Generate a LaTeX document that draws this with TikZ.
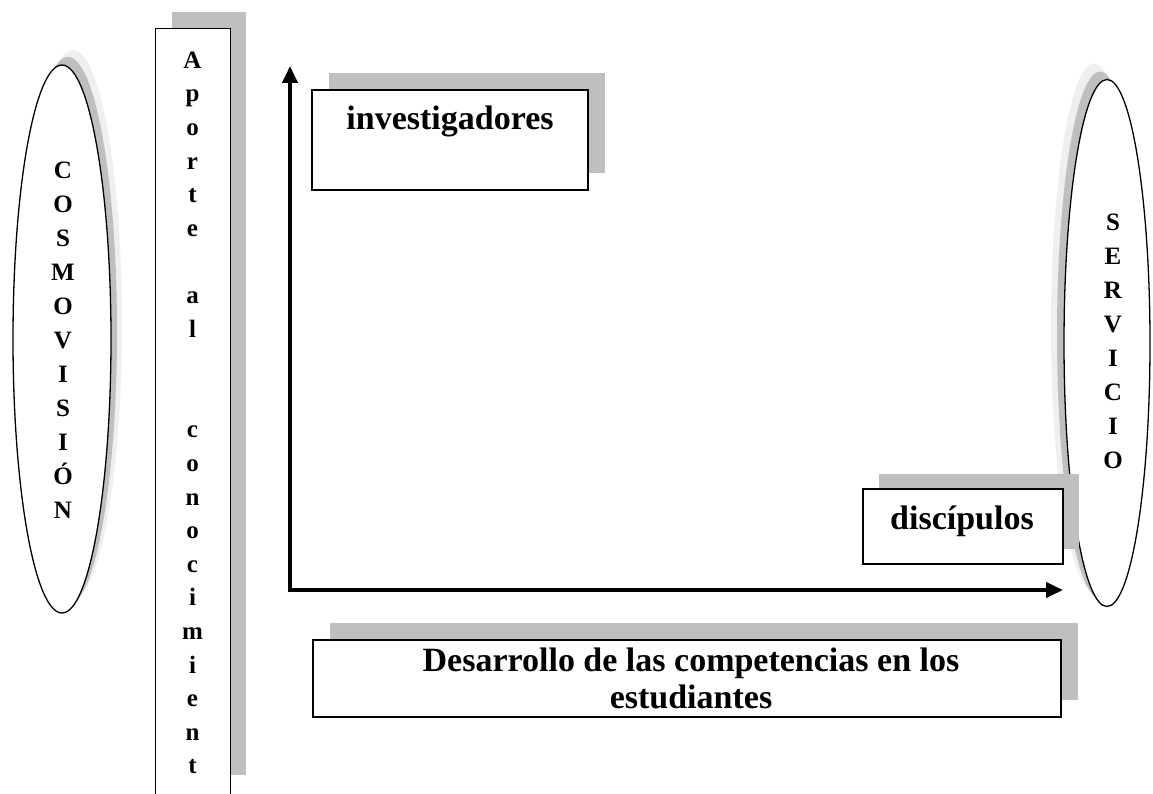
\documentclass[tikz,border=0pt]{standalone}
\usepackage{fontspec}
\setmainfont{Liberation Serif}
\usetikzlibrary{shapes.geometric,arrows.meta,shadows}
\definecolor{sg}{HTML}{BFBFBF}
\definecolor{sl}{HTML}{EFEFEF}
\tikzset{
  boxshape/.style={draw=black, line width=1.4pt, fill=white, rectangle, inner sep=0pt},
  ovalshape/.style={draw=black, line width=1.3pt, fill=white, ellipse, inner sep=0pt},
  boxshadow/.style={drop shadow={shadow xshift=17pt, shadow yshift=17pt, fill=sg, opacity=1}},
  lbl/.style={font=\bfseries\fontsize{34}{38}\selectfont, align=center, inner sep=0pt},
  vert/.style={font=\bfseries\fontsize{25}{34}\selectfont, align=center, inner sep=0pt, anchor=north},
  axis/.style={line width=4pt, -{Triangle[length=17pt,width=15pt]}}
}
\begin{document}
\begin{tikzpicture}[x=1pt,y=-1pt]
\useasboundingbox (0,0) rectangle (1153,794);
\fill[white] (0,0) rectangle (1153,794);

% left ellipse
\node[ovalshape, minimum width=98pt, minimum height=548pt,
  drop shadow={shadow xshift=11pt, shadow yshift=15pt, fill=sl, opacity=1},
  drop shadow={shadow xshift=6pt, shadow yshift=8pt, fill=sg, opacity=1}] (cosmo) at (62,339) {};
\node[vert] (cosmotxt) at (63,161.5) {C\\O\\S\\M\\O\\V\\I\\S\\I\\Ó\\N};

% column
\coordinate (shadowend) at (0,775);
\node[boxshape, minimum width=75pt, minimum height=772pt, anchor=north west] (col) at (155,28) {};
\fill[sg] ([xshift=17pt,yshift=16pt]col.north west) rectangle ([xshift=15pt]col.north east |- shadowend);
\node[boxshape, minimum width=75pt, minimum height=772pt, anchor=north west, fill=white] at (155,28) {};
\node[vert, font=\bfseries\fontsize{25}{33.6}\selectfont] (coltxt) at (192.5,51.5)
  {A\\p\\o\\r\\t\\e\\~\\a\\l\\~\\~\\c\\o\\n\\o\\c\\i\\m\\i\\e\\n\\t};

% axes
\coordinate (origin) at (290,590);
\coordinate (ytop) at (290,66);
\coordinate (xend) at (1063,590);
\draw[axis] (origin) -- (ytop);
\draw[axis, line cap=rect] (origin) -- (xend);

% investigadores
\node[boxshape, boxshadow, minimum width=276pt, minimum height=100pt] (inv) at (450,140) {};
\node[lbl] (invtxt) at (450,121) {investigadores};

% right ellipse
\node[ovalshape, minimum width=86pt, minimum height=527pt,
  drop shadow={shadow xshift=-13pt, shadow yshift=16pt, fill=sl, opacity=1},
  drop shadow={shadow xshift=-7pt, shadow yshift=8pt, fill=sg, opacity=1}] (serv) at (1107,343) {};
\node[vert] (servtxt) at (1113,213.5) {S\\E\\R\\V\\I\\C\\I\\O};

% discipulos
\node[boxshape, drop shadow={shadow xshift=16pt, shadow yshift=15pt, fill=sg, opacity=1},
  minimum width=200pt, minimum height=75pt] (disc) at (963,526.5) {};
\node[lbl] (disctxt) at (962,521) {discípulos};

% desarrollo
\node[boxshape, boxshadow, minimum width=748pt, minimum height=77pt] (des) at (687,678.5) {};
\node[lbl, font=\bfseries\fontsize{34}{37}\selectfont] (destxt) at (691,678)
  {Desarrollo de las competencias en los\\estudiantes};
\end{tikzpicture}
\end{document}
